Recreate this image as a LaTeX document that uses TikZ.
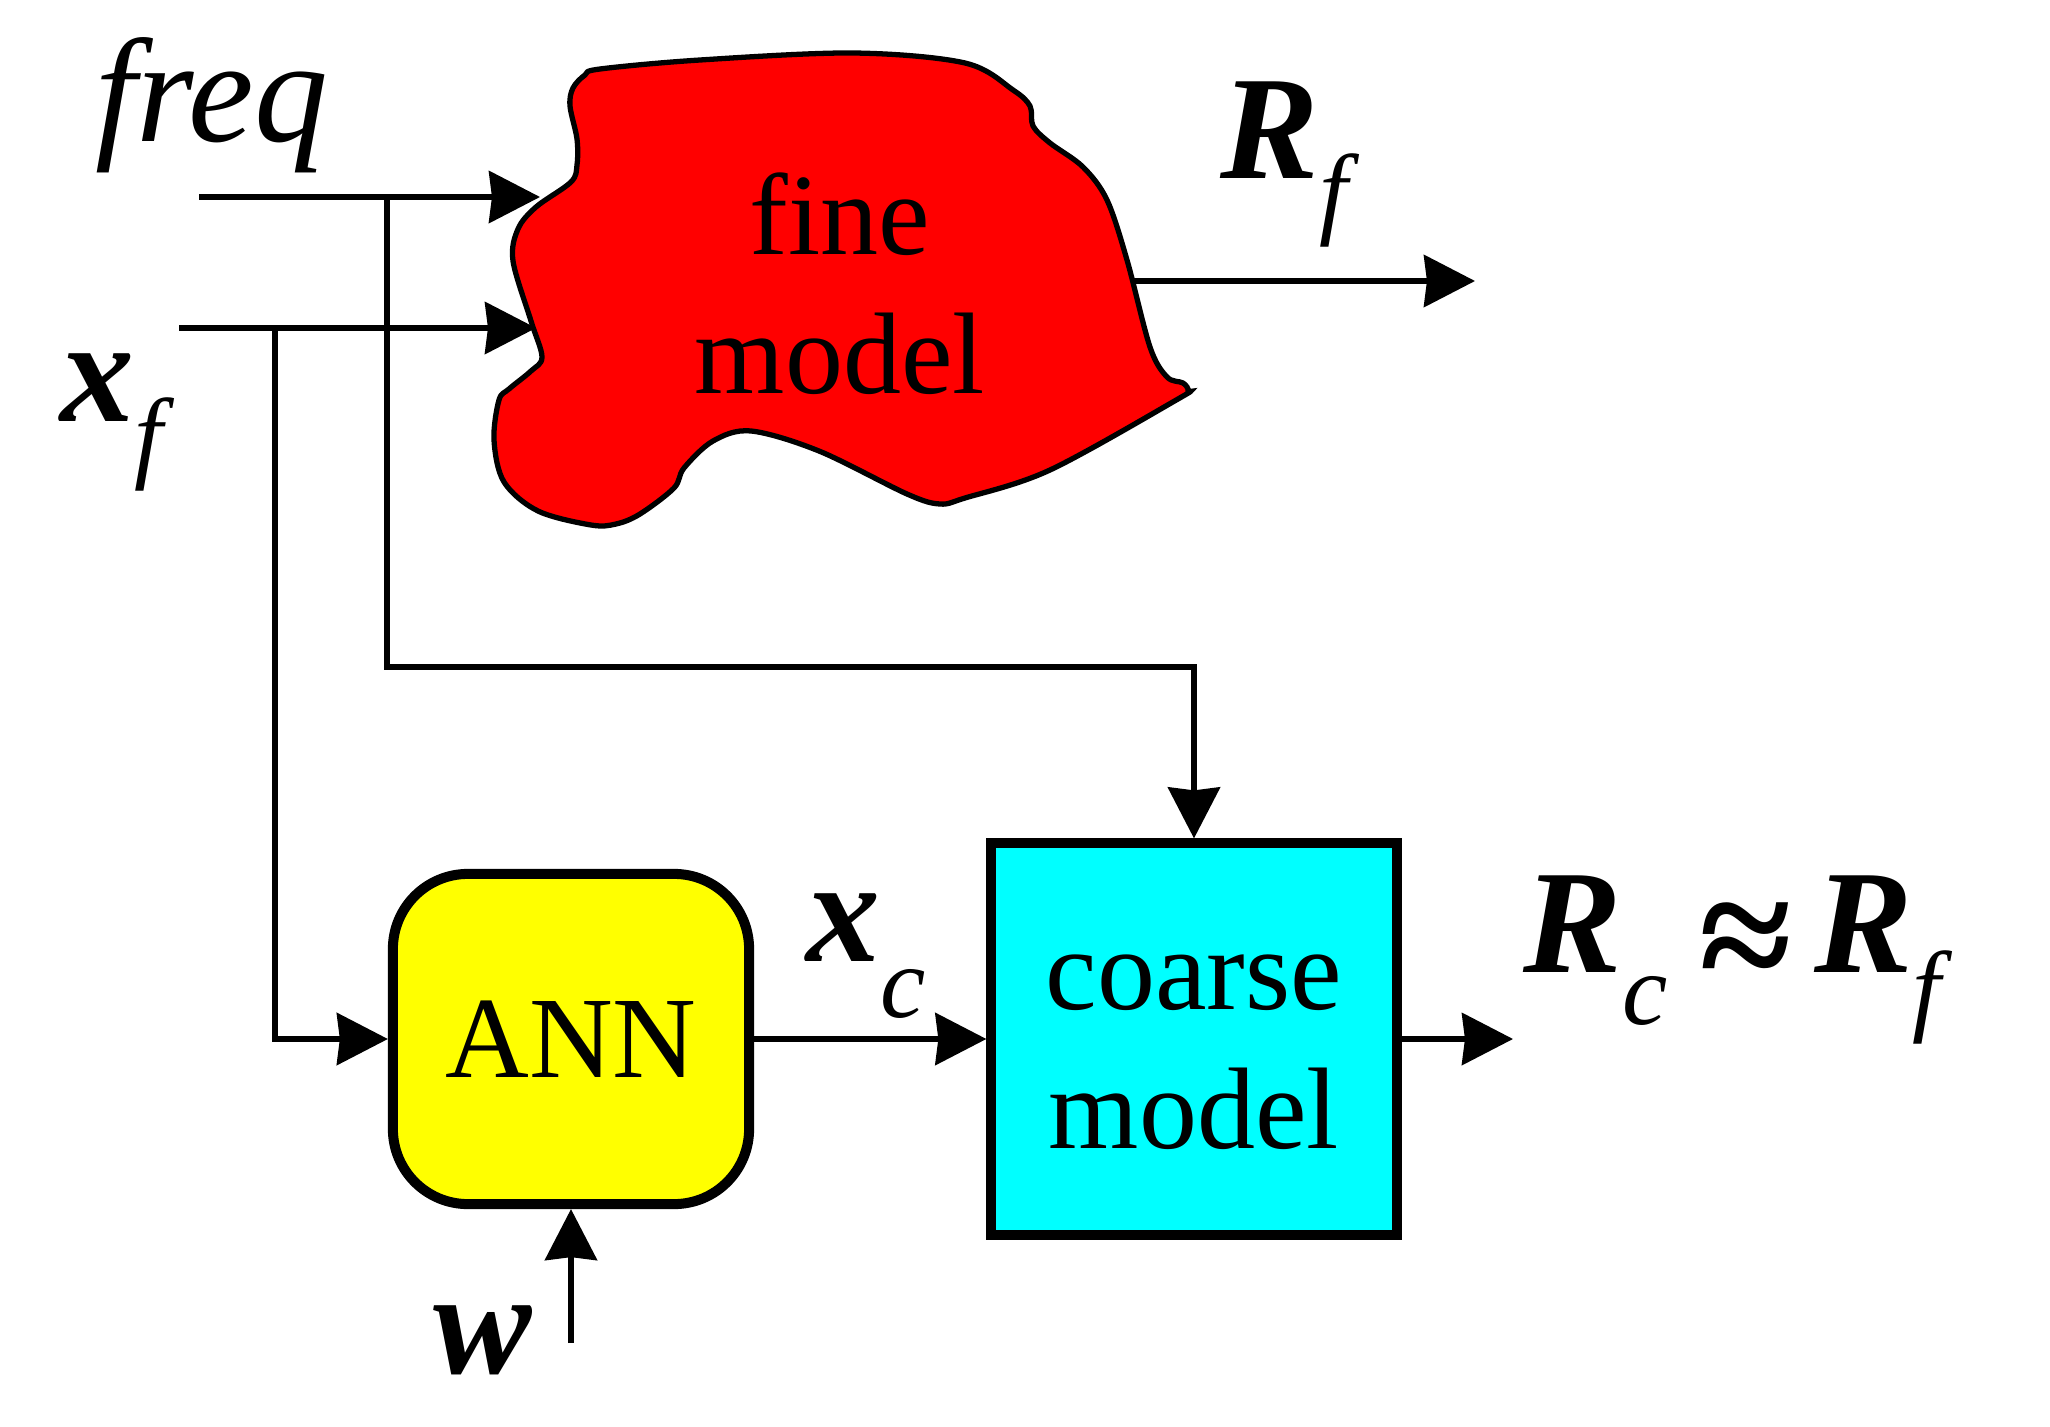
\documentclass[tikz,border=0pt]{standalone}
\usepackage{fontspec}
\setmainfont{Liberation Serif}
\usetikzlibrary{arrows.meta}
\definecolor{annyellow}{RGB}{255,255,0}
\definecolor{coarsecyan}{RGB}{0,255,255}
\definecolor{finered}{RGB}{255,0,0}
\newcommand{\lblsize}{\fontsize{42}{50}\selectfont}
\newcommand{\subsize}{\fontsize{29}{34}\selectfont}
\newcommand{\boxsize}{\fontsize{33}{39.5}\selectfont}
\newcommand{\bvar}[1]{\textbf{\textit{#1}}}
\newcommand{\lsub}[2]{\raisebox{#1}{\subsize\textit{#2}}}

\begin{document}
\begin{tikzpicture}[x=0.01cm, y=-0.01cm,
    wire/.style={line width=1.45pt},
    conn/.style={wire, -{Stealth[length=5.1mm, width=5.2mm, inset=0.3mm]}},
    lbl/.style={font=\lblsize, inner sep=0pt, anchor=base west},
    annbox/.style={draw, line width=2.85pt, fill=annyellow, rounded corners=0.75cm,
        minimum width=3.56cm, minimum height=3.3cm, font=\boxsize},
    coarsebox/.style={draw, line width=2.85pt, fill=coarsecyan, minimum width=4.05cm,
        minimum height=3.91cm, align=center, font=\boxsize},
    blob/.style={draw, line width=1.5pt, fill=finered}]
    \useasboundingbox (0,0) rectangle (2050,1427);

    \draw[blob] plot[smooth cycle, tension=0.55] coordinates {
        (573,88) (585,75) (600,69) (700,60) (853,53) (965,63) (1013,90)
        (1030,106) (1033,126) (1050,143) (1083,167) (1107,200) (1127,260)
        (1150,347) (1167,377) (1183,383) (1188,391) (1178,399) (1050,470)
        (965,498) (940,504) (907,494) (819,451) (751,431) (713,441)
        (684,468) (674,488) (640,514) (616,524) (591,525) (538,511)
        (504,482) (494,440) (499,400) (509,389) (531,371) (542,357)
        (531,321) (513,261) (518,229) (536,207) (571,182) (577,165)
        (577,139) (570,106)};
    \node[font=\boxsize, align=center, inner sep=0pt] (fine) at (840,284) {fine\\model};

    \node[annbox] (ann) at (571,1039) {ANN};
    \node[coarsebox] (coarse) at (1194,1039) {coarse\vphantom{d}\\model};

    \node[lbl] (freq) at (95,141) {\textit{freq}};
    \node[lbl] (xf) at (60,421) {\bvar{x}\lsub{-0.48cm}{f}};
    \node[lbl] (rf) at (1220,178) {\bvar{R}\lsub{-0.47cm}{f}};
    \node[lbl] (xc) at (806,961) {\bvar{x}\lsub{-0.56cm}{c}};
    \node[lbl] (rcrf) at (1523,972) {\bvar{R}\lsub{-0.52cm}{c}\hspace{0.32cm}%
        \raisebox{-0.2cm}{\fontsize{48}{50}\selectfont\textbf{≈}}\hspace{0.22cm}%
        \bvar{R}\lsub{-0.5cm}{f}};
    \node[lbl] (w) at (433,1373) {\bvar{w}};

    \coordinate (freqin) at (199,197);
    \coordinate (xfin) at (179,328);
    \coordinate (fineA) at (540,197);
    \coordinate (fineB) at (536,328);
    \coordinate (fineout) at (1133,281);
    \coordinate (rfout) at (1475,281);
    \coordinate (tapf) at (387,197);
    \coordinate (tapx) at (275,328);
    \coordinate (bend) at (1194,667);
    \coordinate (rcout) at (1513,1039);
    \coordinate (win) at (571,1343);

    \draw[conn] (freqin) -- (fineA);
    \draw[conn] (xfin) -- (fineB);
    \draw[conn] (fineout) -- (rfout);
    \draw[conn] (tapf) |- (bend) -- (coarse.north);
    \draw[conn] (tapx) |- (ann.west);
    \draw[conn] (ann) -- (coarse);
    \draw[conn] (coarse) -- (rcout);
    \draw[conn] (win) -- (ann.south);
\end{tikzpicture}
\end{document}
